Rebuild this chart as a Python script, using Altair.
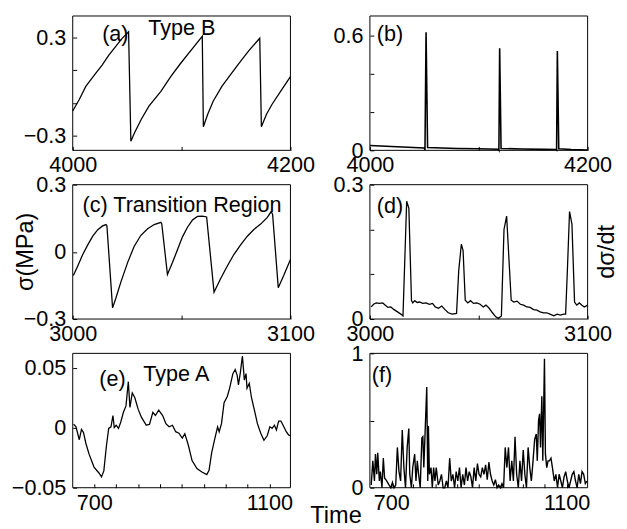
import altair as alt
import pandas as pd

FONT = "Liberation Sans"

# ---------------- data ----------------
# (a) Type B stress, sigma(MPa)
a_t = [4000, 4006, 4012, 4020, 4027, 4033, 4039, 4045, 4051.3,
       4053.4, 4057, 4063, 4070, 4081, 4090, 4099, 4111, 4119,
       4120, 4124, 4129, 4137, 4147, 4155, 4162, 4171.8,
       4173.3, 4178, 4183, 4192, 4200]
a_v = [-0.15, -0.08, 0.0, 0.07, 0.13, 0.19, 0.24, 0.29, 0.334,
       -0.334, -0.28, -0.2, -0.12, -0.03, 0.06, 0.14, 0.24, 0.306,
       -0.246, -0.17, -0.09, 0.0, 0.09, 0.16, 0.22, 0.294,
       -0.246, -0.17, -0.11, -0.02, 0.06]

# (b) Type B d sigma / dt
b_t = [4000, 4020, 4040, 4050, 4050.6, 4051.6, 4053, 4080, 4100, 4118, 4118.5,
       4119.2, 4120.5, 4140, 4160, 4171, 4171.5, 4172.2, 4173.5, 4185, 4200]
b_v = [0.025, 0.02, 0.015, 0.012, 0.002, 0.615, 0.015, 0.01, 0.008, 0.006, 0.001,
       0.532, 0.01, 0.007, 0.005, 0.004, 0.001, 0.518, 0.008, 0.004, 0.002]

# (c) Transition region stress
c_t = [3000.3, 3002.3, 3004.6, 3006.9, 3009.2, 3011.5, 3013.7, 3015.3, 3015.7,
       3018.3, 3019.8, 3022.1, 3025.2, 3028.2, 3031.3, 3034.4, 3037.4, 3040.5, 3040.9,
       3043.5, 3045.8, 3048.1, 3050.4, 3052.7, 3055.0, 3057.3, 3059.5, 3061.5,
       3064.9, 3067.9, 3071.0, 3074.0, 3077.1, 3080.2, 3083.2, 3086.3, 3089.3, 3091.1, 3091.8,
       3094.4, 3096.9, 3100.0]
c_v = [-0.106, -0.063, -0.012, 0.031, 0.07, 0.099, 0.116, 0.122, 0.117,
       -0.25, -0.207, -0.135, -0.048, 0.024, 0.074, 0.103, 0.122, 0.132, 0.125,
       -0.101, -0.048, 0.009, 0.067, 0.11, 0.142, 0.158, 0.16, 0.156,
       -0.18, -0.12, -0.063, -0.012, 0.031, 0.07, 0.1, 0.124, 0.153, 0.179, 0.168,
       -0.16, -0.106, -0.034]

# (d) Transition region d sigma / dt
d_t = [3000.6, 3001.7, 3002.9, 3004.4, 3005.9, 3007.1, 3008.3, 3009.6, 3011.1, 3012.7,
       3014.2, 3015.2, 3016.9, 3017.9, 3019.1, 3019.7, 3020.6, 3021.7, 3022.9, 3024.2,
       3025.8, 3027.3, 3028.8, 3030.0, 3031.5, 3033.0, 3034.5, 3036.0, 3037.8, 3039.8,
       3040.8, 3042.0, 3042.8, 3043.8, 3045.0, 3046.2, 3047.6, 3049.1, 3050.6, 3052.1,
       3053.3, 3054.8, 3056.3, 3057.8, 3059.0, 3060.4, 3061.6, 3062.8, 3064.9, 3066.1,
       3067.6, 3069.1, 3070.6, 3072.1, 3073.6, 3075.2, 3076.7, 3078.2, 3079.7, 3081.2,
       3082.7, 3084.5, 3086.0, 3087.5, 3089.0, 3089.9, 3090.7, 3091.7, 3092.8, 3094.0,
       3095.0, 3096.2, 3097.4, 3098.5, 3100.0]
d_v = [0.027, 0.033, 0.036, 0.035, 0.036, 0.031, 0.026, 0.027, 0.021, 0.016,
       0.011, 0.007, 0.263, 0.247, 0.041, 0.036, 0.041, 0.037, 0.038, 0.035,
       0.036, 0.033, 0.035, 0.027, 0.024, 0.029, 0.021, 0.014, 0.011, 0.0125,
       0.108, 0.167, 0.153, 0.042, 0.036, 0.041, 0.035, 0.036, 0.033, 0.027,
       0.031, 0.024, 0.014, 0.005, 0.0015, 0.007, 0.2, 0.23, 0.042, 0.038,
       0.04, 0.033, 0.031, 0.027, 0.026, 0.021, 0.02, 0.016, 0.014, 0.014,
       0.011, 0.007, 0.011, 0.009, 0.011, 0.011, 0.108, 0.24, 0.212, 0.038,
       0.031, 0.036, 0.031, 0.027, 0.031]

# (e) Type A stress
e_t = [653, 658.4, 666, 671, 675.6, 680.8, 688.3, 699.6, 710.8, 716.7, 722, 727.8,
       733.1, 738.3, 742.8, 745.8, 750.2, 755.5, 760.7, 766.7, 772.6, 777.9, 781.6,
       786.9, 792.8, 800.3, 807.7, 818.9, 826.3, 833.9, 839.7, 847.3, 856.3, 863.7,
       871, 878.7, 886, 893.5, 901, 906.9, 914.5, 923.4, 934.6, 945.8, 957, 962.2,
       968.2, 975.6, 981.7, 985.3, 990.6, 996.5, 1004, 1009.2, 1016.6, 1021.9, 1026.4,
       1029.3, 1033.8, 1038.3, 1042.8, 1046.6, 1048.8, 1054, 1059.1, 1065.2, 1072.6,
       1080.2, 1087.5, 1094.9, 1101, 1106.1, 1111.5, 1116, 1121.1, 1126.3, 1132.3,
       1138.4, 1143.7, 1147.5]
e_v = [0.003, 0.0008, -0.01, -0.0014, -0.004, -0.0127, -0.022, -0.0328, -0.0377, -0.041,
       -0.036, -0.0154, -0.0006, 0.0008, 0.0102, 0.0002, 0.0021, -0.0006, 0.0048, 0.0129,
       0.0182, 0.0384, 0.0169, 0.029, 0.025, 0.0155, 0.0088, 0.0021, 0.0029, 0.0129,
       0.0102, 0.0147, 0.0102, 0.0034, 0.0008, 0.0021, -0.0033, -0.0046, -0.0087, -0.0051,
       -0.014, -0.0274, -0.0341, -0.0369, -0.039, -0.0355, -0.0208, -0.0087, 0.0008, -0.0033,
       0.0034, 0.0209, 0.0263, 0.033, 0.0451, 0.0485, 0.0437, 0.0357, 0.0464, 0.0598,
       0.0397, 0.0451, 0.033, 0.037, 0.025, 0.0155, 0.0034, -0.0046, -0.0105, -0.0067,
       0.0008, -0.0006, 0.0021, -0.0019, 0.0056, 0.0056, 0.0013, -0.0033, -0.006, -0.0067]

# (f) Type A d sigma / dt
f_t = [654.0, 657.7, 661.4, 663.7, 666.7, 668.9, 672.6, 674.9, 678.6, 681.6, 684.6, 687.6,
       691.3, 695.0, 698.8, 702.5, 706.2, 710.0, 713.7, 717.4, 721.1, 724.9, 728.6, 732.3,
       736.1, 739.8, 742.0, 745.8, 748.8, 753.2, 756.2, 759.2, 762.2, 765.9, 769.6, 771.9,
       774.1, 777.1, 780.8, 783.1, 784.6, 786.8, 790.5, 793.5, 796.5, 799.5, 802.5, 807.0,
       810.7, 814.4, 818.1, 821.9, 825.6, 829.3, 833.1, 836.8, 840.5, 844.3, 848.0, 851.7,
       855.5, 859.2, 862.9, 866.7, 870.4, 874.1, 877.8, 881.6, 885.3, 889.0, 892.8, 896.5,
       900.2, 904.0, 907.7, 911.4, 915.2, 918.9, 922.6, 926.3, 930.1, 933.8, 937.5, 941.3,
       945.0, 948.7, 952.5, 956.2, 959.9, 963.7, 967.4, 971.1, 974.9, 978.6, 982.3, 986.0,
       989.8, 993.5, 997.2, 1001.0, 1004.7, 1008.4, 1012.2, 1015.9, 1019.6, 1023.4, 1027.1,
       1030.8, 1033.1, 1036.0, 1038.3, 1040.5, 1043.5, 1045.7, 1049.5, 1051.7, 1054.7,
       1057.7, 1060.7, 1064.4, 1068.1, 1071.9, 1075.6, 1079.3, 1083.0, 1086.8, 1090.5,
       1094.2, 1098.0, 1101.7, 1105.4, 1109.2, 1112.9, 1116.6, 1120.4, 1124.1, 1127.8,
       1131.6, 1135.3, 1139.0, 1142.8, 1146.5]
f_v = [0.02, 0.2, 0.05, 0.25, 0.1, 0.26, 0.05, 0.12, 0.0, 0.22, 0.07, 0.06,
       0.04, 0.02, 0.0, 0.04, 0.0, 0.02, 0.3, 0.12, 0.05, 0.43, 0.15, 0.0,
       0.3, 0.44, 0.1, 0.0, 0.15, 0.25, 0.05, 0.2, 0.1, 0.0, 0.37, 0.38,
       0.15, 0.42, 0.75, 0.05, 0.46, 0.1, 0.15, 0.0, 0.15, 0.05, 0.15, 0.02,
       0.05, 0.1, 0.0, 0.0, 0.05, 0.0, 0.22, 0.05, 0.1, 0.0, 0.12, 0.05,
       0.15, 0.0, 0.1, 0.02, 0.15, 0.05, 0.12, 0.08, 0.0, 0.15, 0.05, 0.18,
       0.1, 0.08, 0.15, 0.1, 0.17, 0.06, 0.19, 0.1, 0.05, 0.02, 0.06, 0.0,
       0.02, 0.0, 0.03, 0.0, 0.3, 0.15, 0.3, 0.05, 0.2, 0.05, 0.38, 0.1,
       0.0, 0.2, 0.05, 0.28, 0.1, 0.0, 0.3, 0.15, 0.05, 0.2, 0.36,
       0.4, 0.2, 0.5, 0.55, 0.3, 0.68, 0.2, 0.96, 0.25, 0.15,
       0.2, 0.2, 0.22, 0.14, 0.05, 0.1, 0.0, 0.1, 0.05, 0.0,
       0.08, 0.12, 0.05, 0.0, 0.05, 0.1, 0.12, 0.05, 0.0, 0.1,
       0.03, 0.12, 0.1, 0.03, 0.05]

W, H = 222, 137
TICK = 4


def only(vals):
    return "indexof([" + ",".join(repr(v) for v in vals) + "], datum.value) >= 0 ? datum.label : ''"


def panel(t, v, xdom, ydom, xticks, yticks, xlabels, ylabels, texts, lw=1.3,
          bottom_title=None):
    df = pd.DataFrame({"t": t, "v": v})
    xs = alt.Scale(domain=xdom, nice=False, zero=False)
    ys = alt.Scale(domain=ydom, nice=False, zero=False)
    common = dict(offset=-TICK, tickSize=TICK, domain=False, grid=False,
                  labelOverlap=False, labelFlush=False, tickColor="black", tickWidth=1,
                  labelColor="black", labelFont=FONT, labelFontSize=22)
    bx = dict(common)
    bx.update(orient="bottom", values=xticks, format="d", labelExpr=only(xlabels),
              labelPadding=5)
    if bottom_title:
        bx.update(title=bottom_title, titleX=-35, titleY=39, titleAlign="center",
                  titleBaseline="alphabetic", titleFont=FONT, titleFontSize=24,
                  titleFontWeight="normal", titleColor="black")
    else:
        bx.update(title=None)
    ly = dict(common)
    ly.update(orient="left", values=yticks, format="~g", labelExpr=only(ylabels),
              labelPadding=7, title=None)

    line = alt.Chart(df).mark_line(color="black", strokeWidth=lw).encode(
        x=alt.X("t:Q", scale=xs, axis=alt.Axis(**bx)),
        y=alt.Y("v:Q", scale=ys, axis=alt.Axis(**ly)),
    )
    one = pd.DataFrame({"k": [0]})
    frame = alt.Chart(one).mark_rect(fillOpacity=0, stroke="black", strokeWidth=1).encode(
        x=alt.value(0), x2=alt.value(W), y=alt.value(0), y2=alt.value(H))
    layers = [frame, line]
    for txt, px, py, size, ang in texts:
        kw = dict(text=txt, font=FONT, fontSize=size, color="black")
        if ang:
            kw.update(angle=ang, align="center", baseline="middle")
        else:
            kw.update(align="left", baseline="alphabetic")
        layers.append(
            alt.Chart(one).mark_text(**kw).encode(x=alt.value(px), y=alt.value(py))
        )
    return alt.layer(*layers).properties(width=W, height=H)


pa = panel(a_t, a_v, [4000, 4200], [-0.39, 0.43], [4000, 4100, 4200],
           [-0.3, -0.1, 0.1, 0.3], [4000, 4200], [-0.3, 0.3],
           [("(a)", 30, 26, 22, 0), ("Type B", 77, 19, 22, 0)])
pb = panel(b_t, b_v, [4000, 4200], [0, 0.7], [4000, 4100, 4200],
           [0, 0.2, 0.4, 0.6], [4000, 4200], [0, 0.6],
           [("(b)", 7, 26, 22, 0)], lw=1.6)
pc = panel(c_t, c_v, [3000, 3100], [-0.3, 0.3], [3000, 3050, 3100],
           [-0.3, 0, 0.3], [3000, 3100], [-0.3, 0, 0.3],
           [("(c) Transition Region", 10, 28, 22, 0), ("σ(MPa)", -47, H / 2, 24, 270)])
pd_ = panel(d_t, d_v, [3000, 3100], [0, 0.3], [3000, 3050, 3100],
            [0, 0.1, 0.2, 0.3], [3000, 3100], [0, 0.3],
            [("(d)", 7, 29, 22, 0), ("dσ/dt", W + 20, H / 2, 24, 270)])
pe = panel(e_t, e_v, [651, 1148], [-0.05, 0.062],
           [700, 750, 800, 850, 900, 950, 1000, 1050, 1100],
           [-0.05, 0, 0.05], [700, 1100], [-0.05, 0, 0.05],
           [("(e)", 27, 33, 22, 0), ("Type A", 72, 28, 22, 0)])
pf = panel(f_t, f_v, [651, 1148], [0, 1],
           [700, 750, 800, 850, 900, 950, 1000, 1050, 1100],
           [0, 0.5, 1], [700, 1100], [0, 1],
           [("(f)", 2, 29, 22, 0)], lw=1.4, bottom_title="Time")

chart = alt.concat(pa, pb, pc, pd_, pe, pf, columns=2,
                   spacing={"row": 35, "column": 81}, bounds="flush").properties(
    padding={"left": 3, "top": 2, "right": 0, "bottom": 0}
).configure_view(stroke=None)

chart.save("out.html", embed_options={"renderer": "svg", "actions": False})
